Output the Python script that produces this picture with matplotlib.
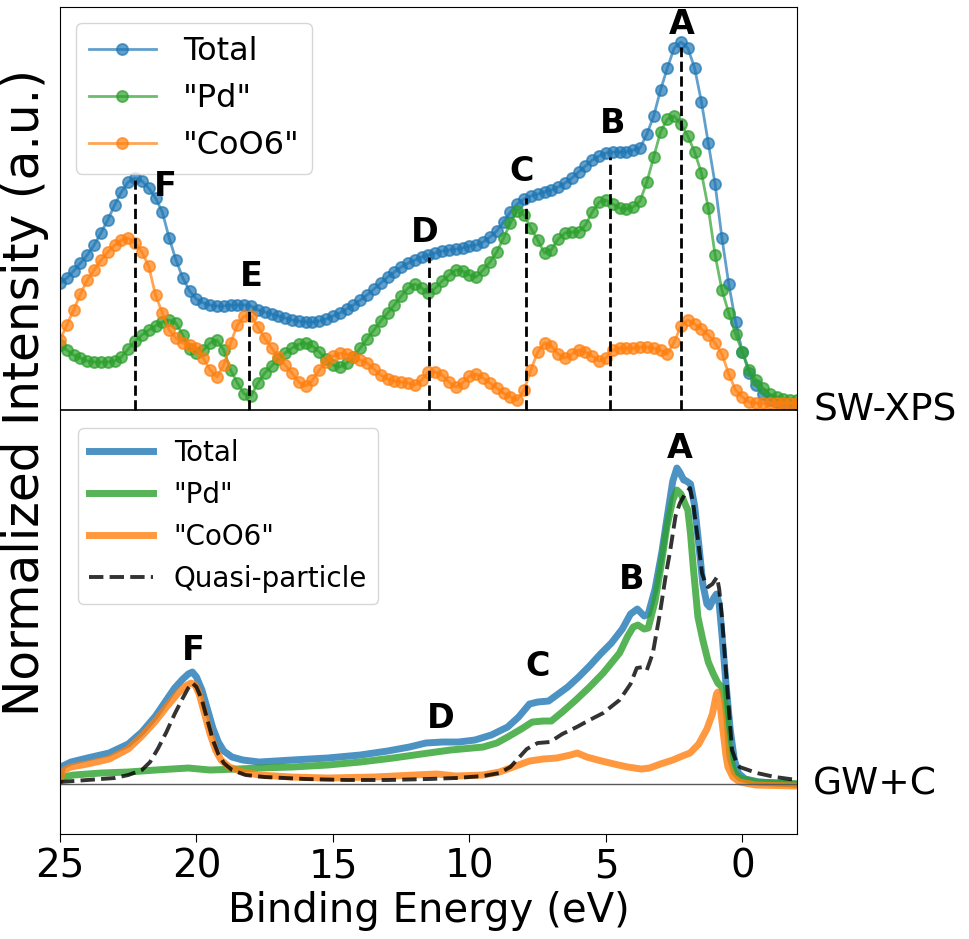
import numpy as np
import matplotlib
matplotlib.use('Agg')
import matplotlib.pyplot as plt
from matplotlib.transforms import blended_transform_factory

# ---- SW-XPS (upper set), 0.25 eV steps from 25 eV down to -2 eV ----
energy_xps = np.linspace(25, -2, 109)
xps_total = [127, 132, 139, 147, 155, 165, 177, 190, 205, 218,
             228, 232, 229, 222, 212, 198, 172, 150, 132, 119,
             111, 107, 105, 104, 104, 105, 105, 105, 104, 100,
             98, 96, 94, 92, 90, 89, 88, 88, 89, 91,
             94, 97, 101, 105, 110, 115, 121, 127, 133, 138,
             143, 147, 150, 153, 155, 157, 159, 160, 161, 162,
             164, 165, 168, 173, 179, 188, 198, 206, 211, 214,
             216, 218, 220, 223, 227, 232, 238, 244, 250, 254,
             257, 258, 258, 258, 260, 262, 276, 294, 320, 342,
             362, 368, 362, 342, 308, 267, 226, 172, 126, 88,
             58, 37, 25, 16, 10, 8, 7, 7, 6]
xps_pd = [65, 60, 55, 52, 49, 48, 48, 48, 49, 53,
          61, 69, 75, 80, 84, 88, 90, 87, 75, 61,
          57, 60, 67, 70, 60, 40, 27, 16, 14, 27,
          37, 44, 51, 57, 62, 66, 67, 64, 58, 51,
          45, 43, 47, 53, 62, 71, 80, 89, 97, 105,
          114, 122, 126, 122, 117, 122, 129, 135, 140, 139,
          135, 133, 140, 148, 158, 172, 187, 199, 195, 182,
          170, 157, 160, 171, 177, 178, 178, 185, 198, 208,
          210, 206, 202, 201, 203, 209, 228, 253, 278, 291,
          294, 286, 274, 258, 237, 202, 155, 120, 97, 76,
          58, 40, 30, 22, 16, 13, 11, 10, 10]
xps_coo6 = [70, 85, 100, 116, 130, 140, 150, 158, 165, 170,
            172, 167, 158, 144, 115, 97, 80, 72, 67, 65,
            62, 52, 40, 33, 45, 67, 85, 94, 94, 83,
            72, 62, 53, 45, 37, 28, 24, 30, 40, 48,
            54, 57, 56, 53, 50, 47, 41, 35, 31, 29,
            28, 27, 25, 30, 38, 38, 35, 28, 23, 27,
            34, 36, 32, 27, 22, 17, 13, 10, 20, 40,
            58, 67, 64, 56, 52, 56, 60, 58, 54, 49,
            52, 60, 62, 62, 62, 63, 63, 62, 60, 56,
            68, 84, 90, 86, 81, 75, 67, 56, 36, 20,
            13, 8, 7, 7, 7, 7, 7, 7, 7]
xps_offset = 374

# ---- GW+C (lower set) ----
gw_total_e = [25.0, 24.9, 24.6, 24.0, 23.2, 22.5, 22.0, 21.5, 21.1, 20.8, 20.5, 20.3,
              20.15, 20.0, 19.8, 19.6, 19.4, 19.2, 19.0, 18.7, 18.3, 17.7, 16.5, 15.2,
              14.0, 13.0, 12.2, 11.6, 11.0, 10.4, 9.8, 9.2, 8.6, 8.2, 7.8, 7.5, 7.1,
              6.8, 6.4, 6.0, 5.6, 5.2, 4.8, 4.4, 4.1, 3.85, 3.6, 3.45, 3.2, 2.95, 2.75,
              2.55, 2.4, 2.3, 2.15, 2.05, 1.9, 1.75, 1.6, 1.45, 1.3, 1.2, 1.05, 0.95,
              0.85, 0.75, 0.6, 0.45, 0.3, 0.15, -0.1, -0.6, -2.0]
gw_total = [8, 18, 22, 26, 31, 40, 52, 68, 84, 96, 105, 110,
            112, 107, 94, 75, 56, 42, 33, 27, 24, 22, 24, 26,
            29, 33, 37, 41, 42, 42, 44, 49, 57, 67, 80, 82, 83,
            89, 97, 107, 118, 130, 141, 155, 170, 175, 168, 170, 195, 232, 268,
            303, 316, 312, 304, 303, 300, 278, 240, 200, 180, 177, 186, 190,
            180, 150, 100, 55, 25, 11, 5, 2, 0]

gw_pd_e = [25.0, 24.9, 24.5, 23.5, 22.5, 21.5, 20.3, 19.5, 18.5, 17.7, 16.5, 15.2,
           14.0, 12.8, 11.5, 10.7, 9.5, 9.0, 8.6, 8.1, 7.7, 7.3, 7.0, 6.6, 6.1,
           5.6, 5.1, 4.5, 4.2, 4.0, 3.83, 3.6, 3.45, 3.2, 3.0, 2.77, 2.55, 2.4,
           2.25, 2.1, 2.0, 1.9, 1.8, 1.63, 1.45, 1.25, 1.08, 0.9, 0.75, 0.65,
           0.57, 0.46, 0.3, 0.1, -0.5, -2.0]
gw_pd = [4, 7, 9, 11, 12, 14, 16, 14, 15, 16, 17, 19,
         22, 26, 31, 34, 37, 41, 47, 55, 62, 63, 63, 72, 84,
         97, 111, 131, 148, 157, 159, 155, 156, 183, 215, 257, 284, 294,
         290, 280, 274, 250, 217, 167, 144, 122, 111, 101, 97, 85,
         67, 28, 12, 6, 2, 0]

gw_coo6_e = [25.0, 24.9, 24.6, 24.0, 23.2, 22.5, 22.0, 21.5, 21.1, 20.7, 20.4, 20.2,
             20.05, 19.9, 19.7, 19.5, 19.3, 19.1, 18.8, 18.3, 17.7, 16.5, 15.2, 13.5,
             12.0, 11.2, 10.5, 9.5, 8.9, 8.3, 7.8, 7.3, 6.8, 6.3, 6.05, 5.7, 5.3,
             4.7, 4.2, 3.7, 3.4, 3.0, 2.55, 2.2, 1.92, 1.6, 1.3, 1.1, 0.95, 0.9,
             0.8, 0.7, 0.6, 0.53, 0.35, 0.1, -0.5, -2.0]
gw_coo6 = [3, 13, 17, 20, 25, 35, 48, 63, 77, 90, 98, 101,
           99, 90, 70, 50, 34, 24, 17, 12, 9, 7, 6, 7,
           9, 10, 8, 9, 12, 18, 23, 25, 26, 29, 31, 27, 24,
           20, 17, 15, 16, 20, 24, 28, 31, 40, 55, 70, 90, 92,
           75, 51, 28, 17, 7, 2, -1, -2]

gw_qp_e = [25.0, 24.0, 23.0, 22.5, 22.0, 21.7, 21.4, 21.1, 20.8, 20.5, 20.3, 20.15,
           20.0, 19.8, 19.6, 19.4, 19.2, 19.0, 18.7, 18.2, 17.5, 16.0, 14.5, 13.0,
           11.5, 10.5, 9.5, 8.9, 8.5, 8.2, 7.9, 7.5, 7.05, 6.6, 6.07, 5.6, 5.1,
           4.5, 4.1, 3.87, 3.64, 3.5, 3.28, 3.02, 2.8, 2.66, 2.45, 2.29, 2.1,
           1.92, 1.8, 1.74, 1.6, 1.48, 1.35, 1.26, 1.1, 0.93, 0.85, 0.75, 0.57,
           0.38, 0.2, 0.1, -0.53, -1.2, -2.0]
gw_qp = [2, 4, 6, 9, 14, 22, 36, 52, 70, 86, 96, 101,
         97, 84, 64, 44, 30, 21, 14, 9, 7, 5, 4, 4,
         5, 6, 8, 11, 17, 26, 35, 41, 42, 50, 57, 64, 71,
         84, 100, 116, 117, 114, 131, 171, 210, 231, 268, 281, 290,
         296, 280, 267, 238, 211, 200, 197, 200, 207, 195, 167, 101,
         34, 20, 17, 11, 7, 4]

# feature markers
peak_names = ['A', 'B', 'C', 'D', 'E', 'F']
peak_pos = [2.25, 4.84, 7.93, 11.47, 18.08, 22.25]
peak_top = [737, 627, 586, 527, 476, 604]
xps_label_x = [2.22, 4.74, 8.08, 11.63, 18.0, 21.15]
xps_label_y = [760, 661, 613, 552, 508, 598]
gw_names = ['A', 'B', 'C', 'D', 'F']
gw_label_x = [2.29, 4.05, 7.49, 11.04, 20.13]
gw_label_y = [336, 205, 118, 66, 134]

fig = plt.figure(figsize=(9.69, 9.39), dpi=100)
ax = fig.add_axes([0.0619, 0.1118, 0.7606, 0.8807])

# upper: SW-XPS
mk = dict(marker='o', ms=8, mew=1.3, lw=2, alpha=0.7)
l1, = ax.plot(energy_xps, np.array(xps_total) + xps_offset, color='C0', label='Total', **mk)
l2, = ax.plot(energy_xps, np.array(xps_pd) + xps_offset, color='C2', label='"Pd"', **mk)
l3, = ax.plot(energy_xps, np.array(xps_coo6) + xps_offset, color='C1', label='"CoO6"', **mk)
ax.vlines(peak_pos, xps_offset, peak_top, colors='k', linestyles='--', lw=2)
for n, x, y in zip(peak_names, xps_label_x, xps_label_y):
    ax.text(x, y, n, fontsize=24, fontweight='bold', ha='center', va='center', zorder=6)

# lower: GW+C
g1, = ax.plot(gw_total_e, gw_total, color='C0', lw=5, alpha=0.8, label='Total')
g2, = ax.plot(gw_pd_e, gw_pd, color='C2', lw=5, alpha=0.8, label='"Pd"')
g3, = ax.plot(gw_coo6_e, gw_coo6, color='C1', lw=5, alpha=0.8, label='"CoO6"')
g4, = ax.plot(gw_qp_e, gw_qp, '--', color='k', lw=2.8, alpha=0.8, label='Quasi-particle')
for n, x, y in zip(gw_names, gw_label_x, gw_label_y):
    ax.text(x, y, n, fontsize=24, fontweight='bold', ha='center', va='center', zorder=6)

ax.axhline(xps_offset, color='k', lw=1.2)
ax.axhline(0, color='0.35', lw=1)

tr = blended_transform_factory(ax.transAxes, ax.transData)
ax.text(1.022, xps_offset, 'SW-XPS', transform=tr, fontsize=27, va='center', ha='left')
ax.text(1.022, 0, 'GW+C', transform=tr, fontsize=27, va='center', ha='left')

leg1 = ax.legend(handles=[l1, l2, l3], loc='upper left', fontsize=23,
                 handlelength=2.1, handletextpad=0.85, labelspacing=0.5)
ax.add_artist(leg1)
ax.legend(handles=[g1, g2, g3, g4], loc='upper left', bbox_to_anchor=(0.0244, 0.4909),
          borderaxespad=0, fontsize=20, handlelength=2.3, handletextpad=0.75)

ax.set_xlim(25, -2)
ax.set_ylim(-50, 777)
ax.set_xticks([25, 20, 15, 10, 5, 0])
ax.set_yticks([])
ax.tick_params(axis='x', labelsize=28, length=6)
ax.set_xlabel('Binding Energy (eV)', fontsize=29)
ax.set_ylabel('Normalized Intensity (a.u.)', fontsize=35)
ax.yaxis.set_label_coords(-0.015, 0.534)

fig.savefig('out.png', dpi=100)
